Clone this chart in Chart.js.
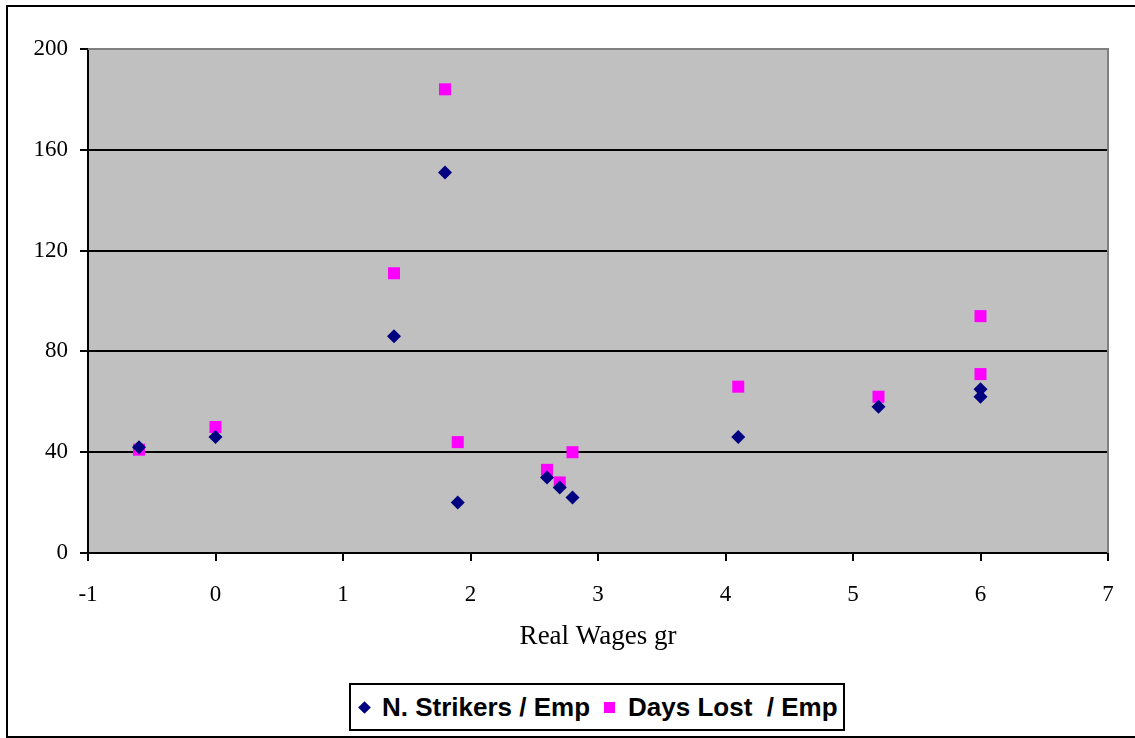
<!DOCTYPE html>
<html>
<head>
<meta charset="utf-8">
<script src="https://cdn.jsdelivr.net/npm/chart.js@4"></script>
<style>
    html, body { margin: 0; padding: 0; background: #fff; }
    #wrap { position: relative; width: 1135px; height: 738px; }
    #legend {
        position: absolute; left: 349px; top: 683px; width: 496px; height: 48px;
        border: 2px solid #000; box-sizing: border-box; background: #fff;
        font: bold 26px "Liberation Sans", Arial, sans-serif; color: #000;
        display: flex; align-items: center; white-space: pre;
    }
    .dia { display: inline-block; width: 9px; height: 9px; background: #000080;
        transform: rotate(45deg); margin: 0 13px 0 9px; }
    .sq { display: inline-block; width: 11px; height: 11px; background: #ff00ff;
        margin: 0 13px 0 14px; }
</style>
</head>
<body>
<div id="wrap">
    <canvas id="chart" width="1135" height="738"></canvas>
    <div id="legend"><span class="dia"></span>N. Strikers / Emp<span class="sq"></span>Days Lost  / Emp</div>
</div>
<script>
"use strict";

// real wages growth (x) for each observation
var wages = [-0.6, 0, 1.4, 1.8, 1.9, 2.6, 2.7, 2.8, 4.1, 5.2, 6.0, 6.0];
var strikers = [42, 46, 86, 151, 20, 30, 26, 22, 46, 58, 65, 62];
var daysLost = [41, 50, 111, 184, 44, 33, 28, 40, 66, 62, 94, 71];
var xTicks = [-1, 0, 1, 2, 3, 4, 5, 6, 7];
var yTicks = [0, 40, 80, 120, 160, 200];

function toPoints(ys) {
    return wages.map(function (x, i) { return {x: x, y: ys[i]}; });
}

var frame = {
    id: 'frame',
    beforeDraw: function (chart) {
        var ctx = chart.ctx, a = chart.chartArea;
        ctx.save();
        ctx.fillStyle = '#c0c0c0';
        ctx.fillRect(a.left, a.top, a.right - a.left, a.bottom - a.top);
        ctx.strokeStyle = '#000';
        ctx.lineWidth = 2;
        ctx.strokeRect(7, 6, 1140, 731);
        ctx.restore();
    },
    afterDraw: function (chart) {
        var ctx = chart.ctx, a = chart.chartArea;
        ctx.save();
        ctx.strokeStyle = '#808080';
        ctx.lineWidth = 2;
        ctx.beginPath();
        ctx.moveTo(a.left, a.top);
        ctx.lineTo(a.right, a.top);
        ctx.lineTo(a.right, a.bottom);
        ctx.stroke();
        ctx.restore();
    }
};

new Chart(document.getElementById('chart'), {
    type: 'scatter',
    data: {
        datasets: [{
            label: 'N. Strikers / Emp',
            data: toPoints(strikers),
            pointStyle: 'rectRot',
            pointRadius: 7,
            backgroundColor: '#000080',
            borderColor: '#000080',
            borderWidth: 0
        }, {
            label: 'Days Lost  / Emp',
            data: toPoints(daysLost),
            pointStyle: 'rect',
            pointRadius: 8.5,
            backgroundColor: '#ff00ff',
            borderColor: '#ff00ff',
            borderWidth: 0
        }]
    },
    options: {
        responsive: false,
        animation: false,
        layout: {padding: {left: 0, top: 49, right: 27, bottom: 0}},
        plugins: {
            legend: {display: false},
            tooltip: {enabled: false}
        },
        scales: {
            x: {
                type: 'linear',
                min: -1,
                max: 7,
                afterBuildTicks: function (scale) {
                    scale.ticks = xTicks.map(function (v) { return {value: v}; });
                },
                afterFit: function (scale) { scale.height = 185; },
                grid: {drawOnChartArea: false, drawTicks: true, tickLength: 8, color: '#000', lineWidth: 2},
                border: {color: '#000', width: 2},
                ticks: {
                    color: '#000', padding: 20, maxRotation: 0,
                    font: {family: '"Liberation Serif", "Times New Roman", serif', size: 23}
                },
                title: {
                    display: true, text: 'Real Wages gr', color: '#000',
                    padding: {top: 14, bottom: 85},
                    font: {family: '"Liberation Serif", "Times New Roman", serif', size: 27}
                }
            },
            y: {
                min: 0,
                max: 200,
                afterBuildTicks: function (scale) {
                    scale.ticks = yTicks.map(function (v) { return {value: v}; });
                },
                afterFit: function (scale) { scale.width = 88; },
                grid: {color: '#000', lineWidth: 2, tickLength: 8},
                border: {color: '#000', width: 2},
                ticks: {
                    color: '#000', padding: 12,
                    font: {family: '"Liberation Serif", "Times New Roman", serif', size: 23}
                }
            }
        }
    },
    plugins: [frame]
});
</script>
</body>
</html>
